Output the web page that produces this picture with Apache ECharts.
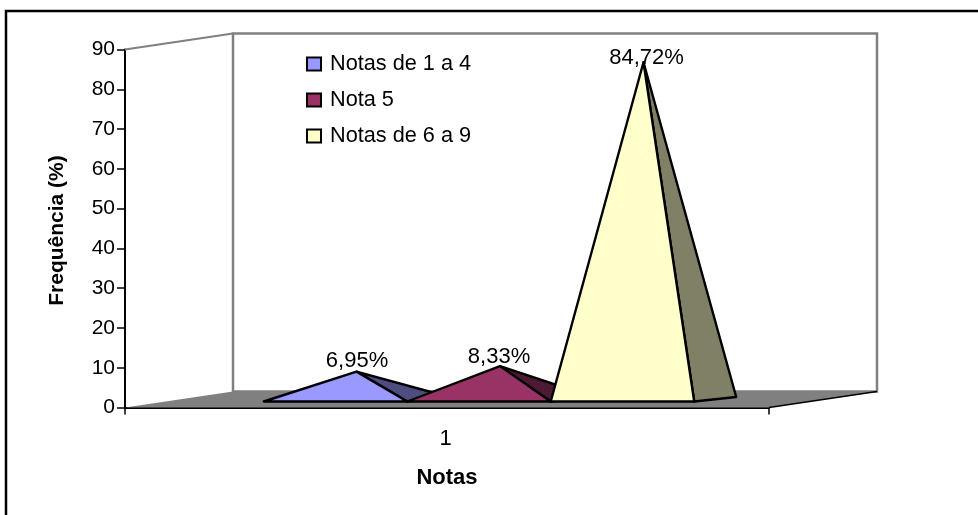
<!DOCTYPE html>
<html><head><meta charset="utf-8">
<style>html,body{margin:0;padding:0;background:#fff}#c{width:978px;height:515px}</style>
<script src="https://cdn.jsdelivr.net/npm/echarts@6/dist/echarts.min.js"></script>
</head><body><div id="c"></div>
<script>
const categories = ['1'];
const seriesNames = ['Notas de 1 a 4', 'Nota 5', 'Notas de 6 a 9'];
const seriesValues = [6.95, 8.33, 84.72];
const frontColors = ['#9999FF', '#993366', '#FFFFCC'];
const sideColors = ['#4D4D80', '#4D1A33', '#808066'];
const yMax = 90, yStep = 10;
const FONT = '"Liberation Sans", Arial, sans-serif';
// oblique projection of the Excel 3D chart box (pixels)
const DEPTH = [108, -16], BAR_FRONT = [32, -6], BAR_BACK = [42, -4.5], BAR_RATIO = 0.2228;
// offset of each value label's centre from the apex, as placed in the reference
const LABEL_LIFT = [11, 9, 4], LABEL_SHIFT = [0.5, -1, 3];

const chart = echarts.init(document.getElementById('c'), null, {renderer: 'canvas'});

function renderBox(params, api) {
  const o = api.coord([0, 0]), t = api.coord([0, yMax]), w = api.size([1, 0])[0];
  const L = o[0] - w / 2, R = o[0] + w / 2, B = o[1], T = t[1];
  const [dx, dy] = DEPTH;
  const gray = '#808080';
  return {type: 'group', silent: true, children: [
    {type: 'polygon', shape: {points: [[L + dx, T + dy], [R + dx, T + dy], [R + dx, B + dy], [L + dx, B + dy]]},
      style: {fill: '#fff', stroke: gray, lineWidth: 2.5}},
    {type: 'polyline', shape: {points: [[L, T], [L + dx, T + dy]]}, style: {fill: null, stroke: gray, lineWidth: 2}},
    {type: 'polygon', shape: {points: [[L, B], [L + dx, B + dy], [R + dx, B + dy], [R, B]]},
      style: {fill: gray, stroke: null}},
    {type: 'polyline', shape: {points: [[R, B], [R + dx, B + dy]]}, style: {fill: null, stroke: '#000', lineWidth: 1.5}}
  ]};
}

function renderPyramid(i) {
  return function (params, api) {
    const val = api.value(1);
    const o = api.coord([0, 0]), top = api.coord([0, val]);
    const w = api.size([1, 0])[0] * BAR_RATIO;
    const x0 = o[0] + BAR_FRONT[0] + (i - 1.5) * w, x1 = x0 + w, y0 = o[1] + BAR_FRONT[1];
    const back = [x1 + BAR_BACK[0], y0 + BAR_BACK[1]];
    const apex = [(x0 + x1 + BAR_BACK[0]) / 2, top[1] + BAR_FRONT[1] + BAR_BACK[1] / 2];
    const stroke = {stroke: '#000', lineWidth: 2.4, lineJoin: 'round'};
    return {type: 'group', children: [
      {type: 'polygon', shape: {points: [[x1, y0], back, apex]}, style: {fill: sideColors[i], ...stroke}},
      {type: 'polygon', shape: {points: [[x0, y0], [x1, y0], apex]}, style: {fill: frontColors[i], ...stroke}},
      {type: 'text', z2: 10, style: {text: val.toFixed(2).replace('.', ',') + '%', x: apex[0] + LABEL_SHIFT[i], y: apex[1] - LABEL_LIFT[i],
        align: 'center', verticalAlign: 'middle', fill: '#000', font: '22px ' + FONT}}
    ]};
  };
}

const series = [{type: 'custom', name: '_box', silent: true, z: 1, clip: false, data: [[0, 0]], renderItem: renderBox}];
seriesNames.forEach((n, i) => series.push({
  type: 'custom', name: n, z: 2 + i, clip: false, data: [[0, seriesValues[i]]],
  itemStyle: {color: frontColors[i]}, encode: {x: 0, y: 1}, renderItem: renderPyramid(i)
}));

chart.setOption({
  animation: false,
  backgroundColor: '#fff',
  tooltip: {show: false},
  graphic: [{type: 'polyline', z: -1, shape: {points: [[6, 515], [6, 11], [978, 11]]},
    style: {fill: null, stroke: '#000', lineWidth: 2.5}}],
  legend: {
    orient: 'vertical', left: 306, top: 53, padding: 0, itemWidth: 14, itemHeight: 13, itemGap: 14, icon: 'rect',
    data: seriesNames, selectedMode: false,
    itemStyle: {borderColor: '#000', borderWidth: 2},
    textStyle: {fontFamily: FONT, fontSize: 21.7, color: '#000', lineHeight: 22, padding: [0, 0, 0, 4]}
  },
  grid: {left: 125, top: 49.5, width: 644, height: 358, containLabel: false},
  xAxis: {
    type: 'category', data: categories, name: 'Notas', nameLocation: 'middle', nameGap: 59,
    nameTextStyle: {fontFamily: FONT, fontWeight: 'bold', fontSize: 22, color: '#000'},
    axisLine: {lineStyle: {color: '#000', width: 2}},
    axisTick: {show: true, length: 7, lineStyle: {color: '#000', width: 1.5}},
    axisLabel: {fontFamily: FONT, fontSize: 22, color: '#000', margin: 20, padding: [0, 3, 0, 0]},
    splitLine: {show: false}
  },
  yAxis: {
    type: 'value', min: 0, max: yMax, interval: yStep, name: 'Frequência (%)', nameLocation: 'middle', nameGap: 57,
    nameRotate: 90,
    nameTextStyle: {fontFamily: FONT, fontWeight: 'bold', fontSize: 21, color: '#000', padding: [0, 4, 0, 0]},
    axisLine: {show: true, lineStyle: {color: '#000', width: 2}},
    axisTick: {show: true, length: 8, lineStyle: {color: '#000', width: 1.5}},
    axisLabel: {fontFamily: FONT, fontSize: 21, color: '#000', margin: 10, padding: [6, 0, 0, 0]},
    splitLine: {show: false}
  },
  series
});
</script></body></html>
